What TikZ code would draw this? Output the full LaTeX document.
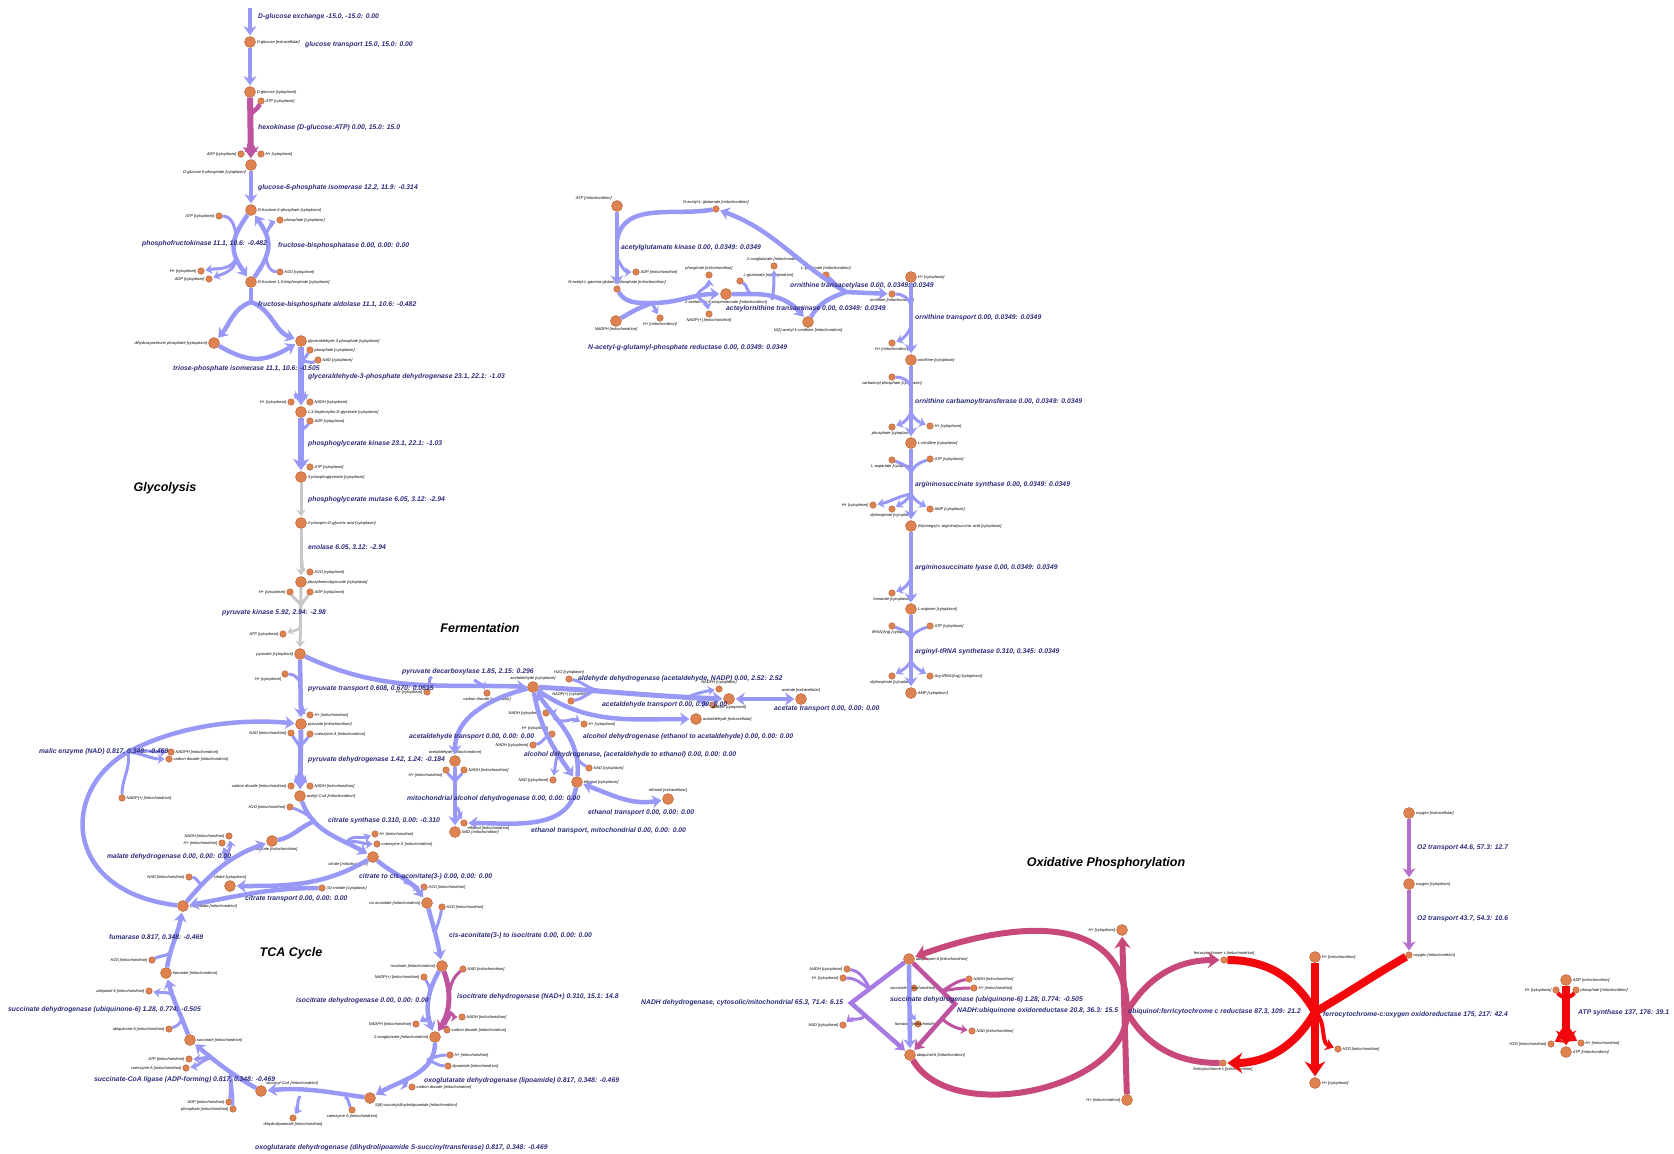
\documentclass[tikz,border=0pt]{standalone}
\usepackage{fontspec}
\setmainfont{Liberation Sans}
\usepackage{xcolor}
\usetikzlibrary{arrows.meta}

\definecolor{fluxblue}{RGB}{152,152,246}
\definecolor{fluxgrey}{RGB}{200,200,200}
\definecolor{fluxpink}{RGB}{190,84,160}
\definecolor{fluxmag}{RGB}{200,72,124}
\definecolor{fluxpurple}{RGB}{166,124,226}
\definecolor{fluxviolet}{RGB}{182,110,204}
\definecolor{fluxred}{RGB}{242,8,12}
\definecolor{metfill}{RGB}{222,130,80}
\definecolor{metline}{RGB}{176,92,50}
\definecolor{rxntext}{RGB}{44,44,122}

\begin{document}
\begin{tikzpicture}[x=1pt, y=-1pt,
    >={Stealth[length=2pt 1.6, width=3pt 2.2]},
    big/.style={circle, fill=metfill, draw=metline, line width=0.4pt, minimum size=11pt, inner sep=0pt},
    small/.style={big, minimum size=6.5pt},
    mlab/.style={font=\fontsize{4}{4.5}\selectfont\itshape, inner sep=1pt},
    rlab/.style={font=\fontsize{6.8}{7.8}\selectfont\bfseries\itshape, text=rxntext, anchor=west, inner sep=0pt},
    title/.style={font=\fontsize{12.5}{14}\selectfont\bfseries\itshape},
    link/.style={draw=fluxblue, line width=4.5pt},
    flux/.style={link, ->, shorten >=1pt},
    rev/.style={link, <->, shorten >=1pt, shorten <=1pt},
    thin/.style={line width=3pt},
    pale/.style={draw=fluxgrey, line width=3pt},
    hk/.style={draw=fluxpink},
    cplx/.style={draw=fluxmag, line width=6pt},
    ndh/.style={draw=fluxpurple},
    otwo/.style={draw=fluxviolet},
    cox/.style={draw=fluxred, line width=8pt}]
\useasboundingbox (0,0) rectangle (1674,1154);

% titles
\node[title] (tGly) at (165,488) {Glycolysis};
\node[title] (tFer) at (480,628) {Fermentation};
\node[title] (tTca) at (291,953) {TCA Cycle};
\node[title] (tOx) at (1106,863) {Oxidative Phosphorylation};

% glycolysis
\node[big, label={[mlab]right:{D-glucose [extracellular]}}] (glcE) at (250,42) {};
\node[big, label={[mlab]right:{D-glucose [cytoplasm]}}] (glcC) at (250,92) {};
\node[small, label={[mlab]right:{ATP [cytoplasm]}}] (atp1) at (261,101) {};
\node[small, label={[mlab]left:{ADP [cytoplasm]}}] (adp1) at (241,154) {};
\node[small, label={[mlab]right:{H+ [cytoplasm]}}] (h1) at (261,154) {};
\node[big, label={[mlab]below left:{D-glucose 6-phosphate [cytoplasm]}}] (g6p) at (251,165) {};
\node[big, label={[mlab]right:{D-fructose 6-phosphate [cytoplasm]}}] (f6p) at (251,210) {};
\node[small, label={[mlab]left:{ATP [cytoplasm]}}] (atp2) at (219,216) {};
\node[small, label={[mlab]right:{phosphate [cytoplasm]}}] (pi1) at (280,220) {};
\node[small, label={[mlab]left:{H+ [cytoplasm]}}] (h2) at (201,271) {};
\node[small, label={[mlab]left:{ADP [cytoplasm]}}] (adp2) at (209,279) {};
\node[small, label={[mlab]right:{H2O [cytoplasm]}}] (h2o1) at (280,272) {};
\node[big, label={[mlab]right:{D-fructose 1,6-bisphosphate [cytoplasm]}}] (fbp) at (251,282) {};
\node[big, label={[mlab]left:{dihydroxyacetone phosphate [cytoplasm]}}] (dhap) at (214,343) {};
\node[big, label={[mlab]right:{glyceraldehyde 3-phosphate [cytoplasm]}}] (g3p) at (301,341) {};
\node[small, label={[mlab]right:{phosphate [cytoplasm]}}] (pi2) at (310,350) {};
\node[small, label={[mlab]right:{NAD [cytoplasm]}}] (nad1) at (318,360) {};
\node[small, label={[mlab]left:{H+ [cytoplasm]}}] (h3) at (291,402) {};
\node[small, label={[mlab]right:{NADH [cytoplasm]}}] (nadh1) at (310,402) {};
\node[big, label={[mlab]right:{1,3-bisphospho-D-glycerate [cytoplasm]}}] (bpg) at (301,412) {};
\node[small, label={[mlab]right:{ADP [cytoplasm]}}] (adp3) at (310,421) {};
\node[small, label={[mlab]right:{ATP [cytoplasm]}}] (atp3) at (310,467) {};
\node[big, label={[mlab]right:{3-phosphoglycerate [cytoplasm]}}] (pg3) at (301,477) {};
\node[big, label={[mlab]right:{2-phospho-D-glyceric acid [cytoplasm]}}] (pg2) at (301,523) {};
\node[small, label={[mlab]right:{H2O [cytoplasm]}}] (h2o2) at (310,572) {};
\node[big, label={[mlab]right:{phosphoenolpyruvate [cytoplasm]}}] (pep) at (301,582) {};
\node[small, label={[mlab]left:{H+ [cytoplasm]}}] (h4) at (290,592) {};
\node[small, label={[mlab]right:{ADP [cytoplasm]}}] (adp4) at (310,592) {};
\node[small, label={[mlab]left:{ATP [cytoplasm]}}] (atp4) at (283,634) {};
\node[big, label={[mlab]left:{pyruvate [cytoplasm]}}] (pyr) at (300,654) {};
\node[small, label={[mlab]below left:{H+ [cytoplasm]}}] (h5) at (285,674) {};

% mitochondrial entry and TCA cycle
\node[small, label={[mlab]right:{H+ [mitochondrion]}}] (hm1) at (310,715) {};
\node[big, label={[mlab]right:{pyruvate [mitochondrion]}}] (pyrM) at (301,724) {};
\node[small, label={[mlab]left:{NAD [mitochondrion]}}] (nadm1) at (291,733) {};
\node[small, label={[mlab]right:{coenzyme A [mitochondrion]}}] (coa1) at (310,734) {};
\node[small, label={[mlab]left:{carbon dioxide [mitochondrion]}}] (co2m1) at (291,786) {};
\node[small, label={[mlab]right:{NADH [mitochondrion]}}] (nadhm1) at (310,786) {};
\node[big, label={[mlab]right:{acetyl-CoA [mitochondrion]}}] (accoa) at (300,796) {};
\node[small, label={[mlab]left:{H2O [mitochondrion]}}] (h2om1) at (290,807) {};
\node[small, label={[mlab]right:{NADPH [mitochondrion]}}] (nadphm1) at (171,752) {};
\node[small, label={[mlab]right:{carbon dioxide [mitochondrion]}}] (co2m2) at (169,759) {};
\node[small, label={[mlab]right:{NADP(+) [mitochondrion]}}] (nadpm1) at (122,798) {};
\node[small, label={[mlab]left:{NADH [mitochondrion]}}] (nadhm2) at (229,836) {};
\node[small, label={[mlab]left:{H+ [mitochondrion]}}] (hm2) at (222,843) {};
\node[big, label={[mlab]below:{oxaloacetate [mitochondrion]}}] (oaa) at (272,841) {};
\node[small, label={[mlab]left:{NAD [mitochondrion]}}] (nadm2) at (189,877) {};
\node[small, label={[mlab]right:{H+ [mitochondrion]}}] (hm3) at (375,834) {};
\node[small, label={[mlab]right:{coenzyme A [mitochondrion]}}] (coa2) at (377,844) {};
\node[big, label={[mlab]below left:{citrate [mitochondrion]}}] (citM) at (373,857) {};
\node[big, label={[mlab]above:{citrate [cytoplasm]}}] (citC) at (230,886) {};
\node[small, label={[mlab]right:{(S)-malate [cytoplasm]}}] (malC) at (322,888) {};
\node[big, label={[mlab]right:{(S)-malate [mitochondrion]}}] (malM) at (183,906) {};
\node[small, label={[mlab]right:{H2O [mitochondrion]}}] (h2om2) at (424,887) {};
\node[big, label={[mlab]left:{cis-aconitate [mitochondrion]}}] (cisac) at (427,903) {};
\node[small, label={[mlab]right:{H2O [mitochondrion]}}] (h2om3) at (442,907) {};
\node[big, label={[mlab]left:{isocitrate [mitochondrion]}}] (icit) at (442,966) {};
\node[small, label={[mlab]right:{NAD [mitochondrion]}}] (nadm3) at (463,969) {};
\node[small, label={[mlab]left:{NADP(+) [mitochondrion]}}] (nadpm2) at (424,977) {};
\node[small, label={[mlab]right:{NADH [mitochondrion]}}] (nadhm3) at (462,1017) {};
\node[small, label={[mlab]left:{NADPH [mitochondrion]}}] (nadphm2) at (416,1024) {};
\node[small, label={[mlab]right:{carbon dioxide [mitochondrion]}}] (co2m4) at (447,1030) {};
\node[big, label={[mlab]left:{2-oxoglutarate [mitochondrion]}}] (akg) at (435,1037) {};
\node[small, label={[mlab]right:{H+ [mitochondrion]}}] (hm4) at (450,1055) {};
\node[small, label={[mlab]right:{lipoamide [mitochondrion]}}] (lipo) at (448,1066) {};
\node[small, label={[mlab]right:{carbon dioxide [mitochondrion]}}] (co2m3) at (412,1087) {};
\node[big, label={[mlab]below right:{S(8)-succinyldihydrolipoamide [mitochondrion]}}] (sdhl) at (370,1098) {};
\node[small, label={[mlab]below:{coenzyme A [mitochondrion]}}] (coa4) at (352,1110) {};
\node[small, label={[mlab]below:{dihydrolipoamide [mitochondrion]}}] (dhla) at (293,1118) {};
\node[big, label={[mlab]above right:{succinyl-CoA [mitochondrion]}}] (succoa) at (261,1091) {};
\node[small, label={[mlab]left:{ADP [mitochondrion]}}] (adpm1) at (229,1102) {};
\node[small, label={[mlab]left:{phosphate [mitochondrion]}}] (pim1) at (233,1109) {};
\node[small, label={[mlab]left:{ATP [mitochondrion]}}] (atpm1) at (189,1059) {};
\node[small, label={[mlab]left:{coenzyme A [mitochondrion]}}] (coa3) at (186,1068) {};
\node[big, label={[mlab]right:{succinate [mitochondrion]}}] (succ) at (190,1040) {};
\node[small, label={[mlab]left:{ubiquinone-6 [mitochondrion]}}] (qm1) at (169,1029) {};
\node[small, label={[mlab]left:{ubiquinol-6 [mitochondrion]}}] (qh2m1) at (149,991) {};
\node[big, label={[mlab]right:{fumarate [mitochondrion]}}] (fum) at (166,973) {};
\node[small, label={[mlab]left:{H2O [mitochondrion]}}] (h2om4) at (152,960) {};

% fermentation
\node[big, label={[mlab]above:{acetaldehyde [cytoplasm]}}] (acald) at (533,687) {};
\node[small, label={[mlab]left:{H+ [cytoplasm]}}] (h6) at (427,692) {};
\node[small, label={[mlab]below:{carbon dioxide [cytoplasm]}}] (co2c) at (487,693) {};
\node[small, label={[mlab]above:{H2O [cytoplasm]}}] (h2o3) at (569,679) {};
\node[small, label={[mlab]above:{NADP(+) [cytoplasm]}}] (nadp1) at (571,701) {};
\node[small, label={[mlab]above:{NADPH [cytoplasm]}}] (nadph1) at (719,689) {};
\node[small, label={[mlab]above left:{H+ [cytoplasm]}}] (h7) at (713,705) {};
\node[big, label={[mlab]below:{acetate [cytoplasm]}}] (ac) at (729,699) {};
\node[big, label={[mlab]above:{acetate [extracellular]}}] (acE) at (801,699) {};
\node[big, label={[mlab]right:{acetaldehyde [extracellular]}}] (acaldE) at (696,719) {};
\node[small, label={[mlab]left:{NADH [cytoplasm]}}] (nadh2) at (546,713) {};
\node[small, label={[mlab]right:{H+ [cytoplasm]}}] (h8) at (584,724) {};
\node[small, label={[mlab]above left:{H+ [cytoplasm]}}] (h9) at (552,734) {};
\node[small, label={[mlab]left:{NADH [cytoplasm]}}] (nadh3) at (533,745) {};
\node[big, label={[mlab]above:{acetaldehyde [mitochondrion]}}] (acaldM) at (455,761) {};
\node[small, label={[mlab]below left:{H+ [mitochondrion]}}] (hm5) at (446,770) {};
\node[small, label={[mlab]right:{NADH [mitochondrion]}}] (nadhm4) at (464,770) {};
\node[small, label={[mlab]right:{NAD [cytoplasm]}}] (nad2) at (589,768) {};
\node[small, label={[mlab]left:{NAD [cytoplasm]}}] (nad3) at (553,780) {};
\node[big, label={[mlab]right:{ethanol [cytoplasm]}}] (eth) at (577,782) {};
\node[big, label={[mlab]above:{ethanol [extracellular]}}] (ethE) at (668,799) {};
\node[small, label={[mlab]below right:{ethanol [mitochondrion]}}] (ethM) at (464,823) {};
\node[big, label={[mlab]right:{NAD [mitochondrion]}}] (nadm4) at (455,832) {};

% urea cycle
\node[big, label={[mlab]above left:{ATP [mitochondrion]}}] (atpm2) at (617,206) {};
\node[small, label={[mlab]above:{N-acetyl-L-glutamate [mitochondrion]}}] (nag) at (716,209) {};
\node[small, label={[mlab]right:{ADP [mitochondrion]}}] (adpm2) at (636,272) {};
\node[small, label={[mlab]above:{N-acetyl-L-gamma-glutamyl phosphate [mitochondrion]}}] (nagp) at (617,289) {};
\node[small, label={[mlab]above:{phosphate [mitochondrion]}}] (pim2) at (709,275) {};
\node[small, label={[mlab]above right:{L-glutamate [mitochondrion]}}] (glu1) at (740,281) {};
\node[small, label={[mlab]above:{2-oxoglutarate [mitochondrion]}}] (akg2) at (774,266) {};
\node[small, label={[mlab]above:{L-glutamate [mitochondrion]}}] (glu2) at (826,275) {};
\node[big, label={[mlab]below:{2-acetamido-5-oxopentanoate [mitochondrion]}}] (aop) at (726,294) {};
\node[small, label={[mlab]below:{H+ [mitochondrion]}}] (hm6) at (660,318) {};
\node[small, label={[mlab]below:{NADP(+) [mitochondrion]}}] (nadpm3) at (709,314) {};
\node[big, label={[mlab]below:{NADPH [mitochondrion]}}] (nadphm3) at (616,321) {};
\node[big, label={[mlab]below:{N(2)-acetyl-L-ornithine [mitochondrion]}}] (acorn) at (808,322) {};
\node[small, label={[mlab]below:{ornithine [mitochondrion]}}] (ornM) at (892,294) {};
\node[big, label={[mlab]right:{H+ [cytoplasm]}}] (h10) at (911,277) {};
\node[small, label={[mlab]below:{H+ [mitochondrion]}}] (hm7) at (892,343) {};
\node[big, label={[mlab]right:{ornithine [cytoplasm]}}] (ornC) at (911,360) {};
\node[small, label={[mlab]below:{carbamoyl phosphate [cytoplasm]}}] (cbp) at (892,377) {};
\node[small, label={[mlab]below:{phosphate [cytoplasm]}}] (pi3) at (892,427) {};
\node[small, label={[mlab]right:{H+ [cytoplasm]}}] (h11) at (930,426) {};
\node[big, label={[mlab]right:{L-citrulline [cytoplasm]}}] (citr) at (911,443) {};
\node[small, label={[mlab]below:{L-aspartate [cytoplasm]}}] (asp) at (892,460) {};
\node[small, label={[mlab]right:{ATP [cytoplasm]}}] (atp5) at (930,459) {};
\node[small, label={[mlab]left:{H+ [cytoplasm]}}] (h12) at (873,505) {};
\node[small, label={[mlab]below:{diphosphate [cytoplasm]}}] (ppi1) at (892,509) {};
\node[small, label={[mlab]right:{AMP [cytoplasm]}}] (amp1) at (930,509) {};
\node[big, label={[mlab]right:{(N(omega)-L-arginino)succinic acid [cytoplasm]}}] (argsuc) at (911,526) {};
\node[small, label={[mlab]below:{fumarate [cytoplasm]}}] (fumC) at (892,593) {};
\node[big, label={[mlab]right:{L-arginine [cytoplasm]}}] (arg) at (911,609) {};
\node[small, label={[mlab]below:{tRNA(Arg) [cytoplasm]}}] (trna) at (892,626) {};
\node[small, label={[mlab]right:{ATP [cytoplasm]}}] (atp6) at (930,626) {};
\node[small, label={[mlab]below:{diphosphate [cytoplasm]}}] (ppi2) at (892,676) {};
\node[small, label={[mlab]right:{Arg-tRNA(Arg) [cytoplasm]}}] (argtrna) at (930,676) {};
\node[big, label={[mlab]right:{AMP [cytoplasm]}}] (amp2) at (911,693) {};

% oxidative phosphorylation
\node[big, label={[mlab]left:{H+ [cytoplasm]}}] (h13) at (1122,930) {};
\node[big, label={[mlab]right:{ubiquinone-6 [mitochondrion]}}] (q) at (909,959) {};
\node[small, label={[mlab]above:{ferrocytochrome c [mitochondrion]}}] (cytr) at (1224,960) {};
\node[small, label={[mlab]left:{NADH [cytoplasm]}}] (nadh4) at (847,969) {};
\node[small, label={[mlab]left:{H+ [cytoplasm]}}] (h14) at (843,978) {};
\node[small, label={[mlab]right:{NADH [mitochondrion]}}] (nadhm5) at (969,979) {};
\node[small, label={[mlab]right:{H+ [mitochondrion]}}] (hm8) at (974,988) {};
\node[small, label={[mlab,xshift=26pt]left:{succinate [mitochondrion]}}] (succ2) at (914,988) {};
\node[small, label={[mlab]left:{NAD [cytoplasm]}}] (nad4) at (843,1025) {};
\node[small, label={[mlab,xshift=26pt]left:{fumarate [mitochondrion]}}] (fum2) at (918,1024) {};
\node[small, label={[mlab]right:{NAD [mitochondrion]}}] (nadm5) at (972,1031) {};
\node[big, label={[mlab]right:{ubiquinol-6 [mitochondrion]}}] (qh2) at (910,1055) {};
\node[small, label={[mlab]below:{ferricytochrome c [mitochondrion]}}] (cyto) at (1223,1063) {};
\node[big, label={[mlab]left:{H+ [mitochondrion]}}] (hm9) at (1127,1100) {};
\node[big, label={[mlab]right:{oxygen [extracellular]}}] (o2e) at (1409,813) {};
\node[big, label={[mlab]right:{oxygen [cytoplasm]}}] (o2c) at (1409,884) {};
\node[small, label={[mlab]right:{oxygen [mitochondrion]}}] (o2m) at (1409,955) {};
\node[big, label={[mlab]right:{H+ [mitochondrion]}}] (hm10) at (1315,957) {};
\node[small, label={[mlab]right:{H2O [mitochondrion]}}] (h2om5) at (1338,1049) {};
\node[big, label={[mlab]right:{H+ [cytoplasm]}}] (h15) at (1315,1083) {};
\node[big, label={[mlab]right:{ADP [mitochondrion]}}] (adpm3) at (1566,980) {};
\node[small, label={[mlab]left:{H+ [cytoplasm]}}] (h16) at (1556,990) {};
\node[small, label={[mlab]right:{phosphate [mitochondrion]}}] (pim3) at (1576,990) {};
\node[small, label={[mlab]left:{H2O [mitochondrion]}}] (h2om6) at (1551,1044) {};
\node[small, label={[mlab]right:{H+ [mitochondrion]}}] (hm11) at (1581,1043) {};
\node[big, label={[mlab]right:{ATP [mitochondrion]}}] (atpm3) at (1566,1052) {};

% branch points
\coordinate (glcX) at (250,8);
\coordinate (hk1) at (250,116);
\coordinate (hk2) at (250,142);
\coordinate (pfk1) at (236,234);
\coordinate (pfk2) at (236,258);
\coordinate (fbpa1) at (266,258);
\coordinate (fbpa2) at (266,234);
\coordinate (ald) at (251,302);
\coordinate (gap1) at (301,363);
\coordinate (gap2) at (301,392);
\coordinate (pgk1) at (301,432);
\coordinate (pgk2) at (301,456);
\coordinate (eno) at (301,558);
\coordinate (pk1) at (301,606);
\coordinate (pk2) at (301,626);
\coordinate (pyt1) at (300,682);
\coordinate (pyt2) at (301,704);
\coordinate (pdc1) at (432,677);
\coordinate (pdc2) at (474,680);
\coordinate (pdh1) at (300,748);
\coordinate (pdh2) at (300,772);
\coordinate (me) at (128,752);
\coordinate (cs1) at (315,821);
\coordinate (cs2) at (346,843);
\coordinate (mdh1) at (203,884);
\coordinate (mdh2) at (226,860);
\coordinate (aco1) at (404,882);
\coordinate (aco2) at (435,932);
\coordinate (idh1) at (430,990);
\coordinate (idh2) at (430,1016);
\coordinate (idn1) at (450,990);
\coordinate (idn2) at (450,1012);
\coordinate (og1) at (427,1060);
\coordinate (og2) at (406,1079);
\coordinate (dl1) at (345,1097);
\coordinate (dl2) at (300,1096);
\coordinate (scs1) at (231,1072);
\coordinate (scs2) at (211,1058);
\coordinate (sd1) at (182,1018);
\coordinate (sd2) at (173,995);
\coordinate (fh1) at (171,950);
\coordinate (ald1) at (598,690);
\coordinate (ald2) at (690,696);
\coordinate (adh1) at (548,736);
\coordinate (adh2) at (558,754);
\coordinate (adr1) at (574,750);
\coordinate (adr2) at (557,720);
\coordinate (madh1) at (455,782);
\coordinate (madh2) at (455,806);
\coordinate (agk1) at (617,240);
\coordinate (agk2) at (617,258);
\coordinate (ngr1) at (652,303);
\coordinate (ngr2) at (697,295);
\coordinate (aot1) at (752,294);
\coordinate (aot2) at (772,300);
\coordinate (oat) at (846,292);
\coordinate (ort1) at (911,306);
\coordinate (ort2) at (911,326);
\coordinate (otc1) at (911,388);
\coordinate (otc2) at (911,412);
\coordinate (ass1) at (911,474);
\coordinate (ass2) at (911,494);
\coordinate (asl) at (911,578);
\coordinate (ars1) at (911,640);
\coordinate (ars2) at (911,661);
\coordinate (ndhv) at (851,1003);
\coordinate (ndh1) at (870,989);
\coordinate (ndh2) at (865,1015);
\coordinate (nuov) at (955,1004);
\coordinate (nuo1) at (942,991);
\coordinate (nuo2) at (942,1019);
\coordinate (sdo1) at (910,992);
\coordinate (sdo2) at (910,1012);
\coordinate (c3) at (1127,1012);
\coordinate (c4) at (1315,1012);
\coordinate (atps1) at (1566,1000);
\coordinate (atps2) at (1566,1028);

% glycolysis reactions
\draw[flux] (glcX) -- (glcE);
\draw[flux] (glcE) -- (glcC);
\draw[flux, hk, line width=6pt] (glcC) -- (g6p);
\draw[link, hk] (atp1) to[out=-110,in=70] (hk1);
\draw[flux, hk, thin] (hk2) to[out=-120,in=30] (adp1);
\draw[flux, hk, thin] (hk2) to[out=-60,in=150] (h1);
\draw[flux] (g6p) -- (f6p);
\draw[flux] (f6p) to[out=-125,in=125,looseness=1.3] (fbp);
\draw[link, thin] (atp2) to[out=0,in=100] (pfk1);
\draw[flux, thin] (pfk2) to[out=-110,in=10] (h2);
\draw[flux, thin] (pfk2) to[out=-90,in=20] (adp2);
\draw[flux] (fbp) to[out=55,in=-55,looseness=1.3] (f6p);
\draw[link, thin] (h2o1) to[out=180,in=-80] (fbpa1);
\draw[flux, thin] (fbpa2) to[out=60,in=200] (pi1);
\draw[link] (fbp) -- (ald);
\draw[flux] (ald) to[out=-160,in=50] (dhap);
\draw[flux] (ald) to[out=-20,in=160] (g3p);
\draw[flux] (dhap) to[out=-30,in=-150,looseness=1.2] (g3p);
\draw[flux, line width=6pt] (g3p) -- (bpg);
\draw[link, thin] (pi2) to[out=-120,in=60] (gap1);
\draw[link, thin] (nad1) to[out=-150,in=50] (gap1);
\draw[flux, thin] (gap2) to[out=-120,in=45] (h3);
\draw[flux, thin] (gap2) to[out=-60,in=135] (nadh1);
\draw[flux, line width=6pt] (bpg) -- (pg3);
\draw[link, thin] (adp3) to[out=-120,in=70] (pgk1);
\draw[flux, thin] (pgk2) to[out=-60,in=150] (atp3);
\draw[flux, pale] (pg3) -- (pg2);
\draw[flux, pale] (pg2) -- (pep);
\draw[flux, pale, line width=2.5pt] (eno) to[out=-60,in=160] (h2o2);
\draw[flux, pale] (pep) -- (pyr);
\draw[link, pale] (h4) to[out=-60,in=110] (pk1);
\draw[link, pale] (adp4) to[out=-120,in=70] (pk1);
\draw[flux, pale, line width=2.5pt] (pk2) to[out=-120,in=20] (atp4);

% pyruvate branch point
\draw[flux] (pyr) -- (pyrM);
\draw[link, thin] (h5) to[out=0,in=120] (pyt1);
\draw[flux, thin] (pyt2) to[out=-60,in=160] (hm1);
\draw[flux] (pyr) to[out=-25,in=178] (acald);
\draw[link, thin] (h6) to[out=60,in=-170] (pdc1);
\draw[flux, thin] (pdc2) to[out=-30,in=120] (co2c);
\draw[flux, line width=5pt] (pyrM) -- (accoa);
\draw[link, thin] (nadm1) to[out=-60,in=110] (pdh1);
\draw[link, thin] (coa1) to[out=-120,in=70] (pdh1);
\draw[flux, thin] (pdh2) to[out=-120,in=45] (co2m1);
\draw[flux, thin] (pdh2) to[out=-60,in=135] (nadhm1);

% TCA cycle reactions
\draw[flux] (malM) .. controls (62,892) and (60,790) .. (me) .. controls (175,727) and (235,718) .. (pyrM);
\draw[link, thin] (nadpm1) to[out=90,in=-80] (me);
\draw[flux, thin] (me) to[out=10,in=180] (nadphm1);
\draw[flux, thin] (me) to[out=-5,in=180] (co2m2);
\draw[flux] (accoa) to[out=-70,in=150] (citM);
\draw[link] (oaa) to[out=10,in=-160] (cs1);
\draw[link, thin] (h2om1) to[out=-20,in=140] (cs1);
\draw[flux, thin] (cs2) to[out=60,in=-160] (hm3);
\draw[flux, thin] (cs2) to[out=20,in=180] (coa2);
\draw[flux] (malM) to[out=50,in=-160] (oaa);
\draw[link, thin] (nadm2) to[out=0,in=-120] (mdh1);
\draw[flux, thin] (mdh2) to[out=80,in=-80] (nadhm2);
\draw[flux, thin] (mdh2) to[out=110,in=-70] (hm2);
\draw[flux] (citM) to[out=-150,in=0] (citC);
\draw[flux] (malC) to[out=180,in=10] (malM);
\draw[flux] (citM) to[out=-40,in=125] (cisac);
\draw[flux, thin] (aco1) to[out=-10,in=180] (h2om2);
\draw[flux] (cisac) to[out=-75,in=100] (icit);
\draw[link, thin] (h2om3) to[out=-100,in=70] (aco2);
\draw[flux] (icit) to[out=-120,in=110] (akg);
\draw[link, thin] (nadpm2) to[out=-60,in=100] (idh1);
\draw[flux, thin] (idh2) to[out=-120,in=30] (nadphm2);
\draw[flux, hk, line width=5pt] (icit) to[out=-70,in=60] (akg);
\draw[link, hk, thin] (nadm3) to[out=-140,in=80] (idn1);
\draw[flux, hk, thin] (idn2) to[out=-40,in=180] (nadhm3);
\draw[flux, hk, thin] (idn2) to[out=-80,in=100] (co2m4);
\draw[flux] (akg) to[out=-90,in=30] (sdhl);
\draw[link, thin] (hm4) to[out=180,in=20] (og1);
\draw[link, thin] (lipo) to[out=180,in=-10] (og1);
\draw[flux, thin] (og2) to[out=-50,in=170] (co2m3);
\draw[flux] (sdhl) to[out=172,in=5] (succoa);
\draw[link, thin] (coa4) to[out=120,in=-20] (dl1);
\draw[flux, thin] (dl2) to[out=-120,in=60] (dhla);
\draw[flux] (succoa) to[out=150,in=-40] (succ);
\draw[link, thin] (adpm1) to[out=80,in=-100] (scs1);
\draw[link, thin] (pim1) to[out=90,in=-90] (scs1);
\draw[flux, thin] (scs2) to[out=170,in=0] (atpm1);
\draw[flux, thin] (scs2) to[out=-170,in=10] (coa3);
\draw[flux] (succ) to[out=110,in=-75] (fum);
\draw[link, thin] (qm1) to[out=20,in=-100] (sd1);
\draw[flux, thin] (sd2) to[out=150,in=-10] (qh2m1);
\draw[flux] (fum) to[out=80,in=-100] (malM);
\draw[link, thin] (h2om4) to[out=30,in=-100] (fh1);

% fermentation reactions
\draw[flux] (acald) to[out=-165,in=90] (acaldM);
\draw[flux, line width=5pt] (acald) to[out=-3,in=178] (ac);
\draw[link, thin] (h2o3) to[out=-10,in=175] (ald1);
\draw[link, thin] (nadp1) to[out=10,in=-170] (ald1);
\draw[flux, thin] (ald2) to[out=20,in=190] (nadph1);
\draw[flux, thin] (ald2) to[out=-10,in=170] (h7);
\draw[flux] (acald) to[out=-35,in=180] (acaldE);
\draw[rev] (ac) -- (acE);
\draw[flux] (acald) to[out=-80,in=125] (eth);
\draw[link, thin] (nadh3) to[out=10,in=-150] (adh1);
\draw[link, thin] (h9) to[out=-120,in=60] (adh1);
\draw[flux, thin] (adh2) to[out=-110,in=80] (nad3);
\draw[flux] (eth) to[out=85,in=-55] (acald);
\draw[link, thin] (nad2) to[out=150,in=-80] (adr1);
\draw[flux, thin] (adr2) to[out=170,in=0] (nadh2);
\draw[flux, thin] (adr2) to[out=-20,in=150] (h8);
\draw[rev] (eth) to[out=-20,in=190] (ethE);
\draw[flux] (eth) to[out=-100,in=0] (ethM);
\draw[flux] (acaldM) -- (nadm4);
\draw[link, thin] (hm5) to[out=-60,in=110] (madh1);
\draw[link, thin] (nadhm4) to[out=-120,in=70] (madh1);
\draw[flux, thin] (madh2) to[out=-30,in=120] (ethM);

% urea cycle reactions
\draw[flux] (atpm2) -- (nagp);
\draw[link] (nag) to[out=190,in=80] (agk1);
\draw[flux, thin] (agk2) to[out=-60,in=180] (adpm2);
\draw[flux] (nagp) to[out=-60,in=180] (ngr1) to[out=0,in=180] (aop);
\draw[link] (nadphm3) to[out=30,in=200] (ngr1);
\draw[flux, thin] (ngr1) to[out=-60,in=120] (hm6);
\draw[flux, thin] (ngr2) to[out=60,in=-90] (pim2);
\draw[flux, thin] (ngr2) to[out=-60,in=100] (nadpm3);
\draw[flux] (aop) to[out=0,in=180] (aot1) to[out=0,in=130] (acorn);
\draw[link, thin] (glu1) to[out=-30,in=170] (aot1);
\draw[flux, thin] (aot2) to[out=80,in=-90] (akg2);
\draw[link] (acorn) to[out=60,in=200] (oat);
\draw[link, thin] (glu2) to[out=-40,in=150] (oat);
\draw[flux] (oat) -- (ornM);
\draw[flux] (oat) to[out=150,in=-20] (nag);
\draw[flux] (h10) -- (ornC);
\draw[link, thin] (ornM) to[out=0,in=100] (ort1);
\draw[flux, thin] (ort2) to[out=-110,in=20] (hm7);
\draw[flux] (ornC) -- (citr);
\draw[link, thin] (cbp) to[out=0,in=100] (otc1);
\draw[flux, thin] (otc2) to[out=-110,in=20] (pi3);
\draw[flux, thin] (otc2) to[out=-70,in=160] (h11);
\draw[flux] (citr) -- (argsuc);
\draw[link, thin] (asp) to[out=-20,in=100] (ass1);
\draw[link, thin] (atp5) to[out=-160,in=80] (ass1);
\draw[flux, thin] (ass2) to[out=-170,in=10] (h12);
\draw[flux, thin] (ass2) to[out=-120,in=30] (ppi1);
\draw[flux, thin] (ass2) to[out=-60,in=150] (amp1);
\draw[flux] (argsuc) -- (arg);
\draw[flux, thin] (asl) to[out=-110,in=20] (fumC);
\draw[flux] (arg) -- (amp2);
\draw[link, thin] (trna) to[out=-20,in=100] (ars1);
\draw[link, thin] (atp6) to[out=-160,in=80] (ars1);
\draw[flux, thin] (ars2) to[out=-120,in=30] (ppi2);
\draw[flux, thin] (ars2) to[out=-60,in=150] (argtrna);

% oxidative phosphorylation reactions
\draw[flux, ndh] (q) -- (ndhv) -- (qh2);
\draw[link, ndh, thin] (nadh4) to[out=-10,in=120] (ndh1);
\draw[link, ndh, thin] (h14) to[out=0,in=150] (ndh1);
\draw[flux, ndh, thin] (ndh2) to[out=-120,in=40] (nad4);
\draw[flux, hk] (q) -- (nuov) -- (qh2);
\draw[link, hk, thin] (nadhm5) to[out=-170,in=30] (nuo1);
\draw[link, hk, thin] (hm8) to[out=180,in=10] (nuo1);
\draw[flux, hk, thin] (nuo2) to[out=-40,in=170] (nadm5);
\draw[flux] (q) -- (qh2);
\draw[link, line width=2pt] (succ2) -- (sdo1);
\draw[flux, line width=2pt] (sdo2) -- (fum2);
\draw[link, cplx] (qh2) to[out=-60,in=-90,looseness=0.9] (c3);
\draw[flux, cplx] (c3) to[out=90,in=20,looseness=1.2] (q);
\draw[flux, cplx] (hm9) -- (h13);
\draw[flux, cplx] (c3) to[out=60,in=180] (cytr);
\draw[link, cplx] (cyto) to[out=180,in=-60] (c3);
\draw[link, cox] (cytr) to[out=0,in=120] (c4);
\draw[flux, cox] (c4) to[out=-120,in=0] (cyto);
\draw[link, cox] (o2m) to[out=-150,in=30] (c4);
\draw[flux, cox] (hm10) -- (h15);
\draw[flux, cox, line width=4pt] (c4) to[out=-40,in=160] (h2om5);
\draw[flux, otwo] (o2e) -- (o2c);
\draw[flux, otwo] (o2c) -- (o2m);
\draw[flux, cox] (adpm3) -- (atpm3);
\draw[link, cox, line width=4pt] (h16) to[out=-60,in=110] (atps1);
\draw[link, cox, line width=4pt] (pim3) to[out=-120,in=70] (atps1);
\draw[flux, cox, line width=4pt] (atps2) to[out=-150,in=30] (h2om6);
\draw[flux, cox, line width=4pt] (atps2) to[out=-30,in=150] (hm11);

% reaction labels
\node[rlab] (rGlcEx) at (258,17) {D-glucose exchange -15.0, -15.0: 0.00};
\node[rlab] (rGlcTr) at (305,45) {glucose transport 15.0, 15.0: 0.00};
\node[rlab] (rHex) at (258,128) {hexokinase (D-glucose:ATP) 0.00, 15.0: 15.0};
\node[rlab] (rPgi) at (258,188) {glucose-6-phosphate isomerase 12.2, 11.9: -0.314};
\node[rlab] (rPfk) at (142,244) {phosphofructokinase 11.1, 10.6: -0.482};
\node[rlab] (rFbp) at (278,246) {fructose-bisphosphatase 0.00, 0.00: 0.00};
\node[rlab] (rFba) at (258,305) {fructose-bisphosphate aldolase 11.1, 10.6: -0.482};
\node[rlab] (rTpi) at (173,369) {triose-phosphate isomerase 11.1, 10.6: -0.505};
\node[rlab] (rGapd) at (308,377) {glyceraldehyde-3-phosphate dehydrogenase 23.1, 22.1: -1.03};
\node[rlab] (rPgk) at (308,444) {phosphoglycerate kinase 23.1, 22.1: -1.03};
\node[rlab] (rPgm) at (308,500) {phosphoglycerate mutase 6.05, 3.12: -2.94};
\node[rlab] (rEno) at (308,548) {enolase 6.05, 3.12: -2.94};
\node[rlab] (rPyk) at (222,613) {pyruvate kinase 5.92, 2.94: -2.98};
\node[rlab] (rPyrt) at (308,689) {pyruvate transport 0.608, 0.670: 0.0615};
\node[rlab] (rPdc) at (402,672) {pyruvate decarboxylase 1.85, 2.15: 0.296};
\node[rlab] (rPdh) at (308,760) {pyruvate dehydrogenase 1.42, 1.24: -0.184};
\node[rlab] (rMe) at (39,752) {malic enzyme (NAD) 0.817, 0.348: -0.469};
\node[rlab] (rCs) at (328,821) {citrate synthase 0.310, 0.00: -0.310};
\node[rlab] (rMdh) at (107,857) {malate dehydrogenase 0.00, 0.00: 0.00};
\node[rlab] (rAco1) at (359,877) {citrate to cis-aconitate(3-) 0.00, 0.00: 0.00};
\node[rlab] (rCitt) at (245,899) {citrate transport 0.00, 0.00: 0.00};
\node[rlab] (rFum) at (109,938) {fumarase 0.817, 0.348: -0.469};
\node[rlab] (rAco2) at (449,936) {cis-aconitate(3-) to isocitrate 0.00, 0.00: 0.00};
\node[rlab] (rSdh) at (8,1010) {succinate dehydrogenase (ubiquinone-6) 1.28, 0.774: -0.505};
\node[rlab] (rIdp) at (296,1001) {isocitrate dehydrogenase 0.00, 0.00: 0.00};
\node[rlab] (rIdh) at (457,997) {isocitrate dehydrogenase (NAD+) 0.310, 15.1: 14.8};
\node[rlab] (rScs) at (94,1080) {succinate-CoA ligase (ADP-forming) 0.817, 0.348: -0.469};
\node[rlab] (rOgd) at (424,1081) {oxoglutarate dehydrogenase (lipoamide) 0.817, 0.348: -0.469};
\node[rlab] (rDlst) at (255,1148) {oxoglutarate dehydrogenase (dihydrolipoamide S-succinyltransferase) 0.817, 0.348: -0.469};
\node[rlab] (rAldh) at (578,679) {aldehyde dehydrogenase (acetaldehyde, NADP) 0.00, 2.52: 2.52};
\node[rlab] (rAcdt) at (602,705) {acetaldehyde transport 0.00, 0.00: 0.00};
\node[rlab] (rAct) at (774,709) {acetate transport 0.00, 0.00: 0.00};
\node[rlab] (rAcdm) at (409,737) {acetaldehyde transport 0.00, 0.00: 0.00};
\node[rlab] (rAdhr) at (583,737) {alcohol dehydrogenase (ethanol to acetaldehyde) 0.00, 0.00: 0.00};
\node[rlab] (rAdhf) at (524,755) {alcohol dehydrogenase, (acetaldehyde to ethanol) 0.00, 0.00: 0.00};
\node[rlab] (rAdhm) at (407,799) {mitochondrial alcohol dehydrogenase 0.00, 0.00: 0.00};
\node[rlab] (rEtt) at (588,813) {ethanol transport 0.00, 0.00: 0.00};
\node[rlab] (rEtm) at (531,831) {ethanol transport, mitochondrial 0.00, 0.00: 0.00};
\node[rlab] (rAgk) at (621,248) {acetylglutamate kinase 0.00, 0.0349: 0.0349};
\node[rlab] (rNgr) at (588,348) {N-acetyl-g-glutamyl-phosphate reductase 0.00, 0.0349: 0.0349};
\node[rlab] (rAot) at (726,309) {acteylornithine transaminase 0.00, 0.0349: 0.0349};
\node[rlab] (rOat) at (790,286) {ornithine transacetylase 0.00, 0.0349: 0.0349};
\node[rlab] (rOrt) at (915,318) {ornithine transport 0.00, 0.0349: 0.0349};
\node[rlab] (rOtc) at (915,402) {ornithine carbamoyltransferase 0.00, 0.0349: 0.0349};
\node[rlab] (rAss) at (915,485) {argininosuccinate synthase 0.00, 0.0349: 0.0349};
\node[rlab] (rAsl) at (915,568) {argininosuccinate lyase 0.00, 0.0349: 0.0349};
\node[rlab] (rArs) at (915,652) {arginyl-tRNA synthetase 0.310, 0.345: 0.0349};
\node[rlab] (rNdh) at (641,1003) {NADH dehydrogenase, cytosolic/mitochondrial 65.3, 71.4: 6.15};
\node[rlab] (rSdo) at (890,1000) {succinate dehydrogenase (ubiquinone-6) 1.28, 0.774: -0.505};
\node[rlab] (rNuo) at (957,1011) {NADH:ubiquinone oxidoreductase 20.8, 36.3: 15.5};
\node[rlab] (rCbc) at (1128,1012) {ubiquinol:ferricytochrome c reductase 87.3, 109: 21.2};
\node[rlab] (rCox) at (1323,1015) {ferrocytochrome-c:oxygen oxidoreductase 175, 217: 42.4};
\node[rlab] (rO2a) at (1417,848) {O2 transport 44.6, 57.3: 12.7};
\node[rlab] (rO2b) at (1417,919) {O2 transport 43.7, 54.3: 10.6};
\node[rlab] (rAtps) at (1578,1013) {ATP synthase 137, 176: 39.1};
\end{tikzpicture}
\end{document}
